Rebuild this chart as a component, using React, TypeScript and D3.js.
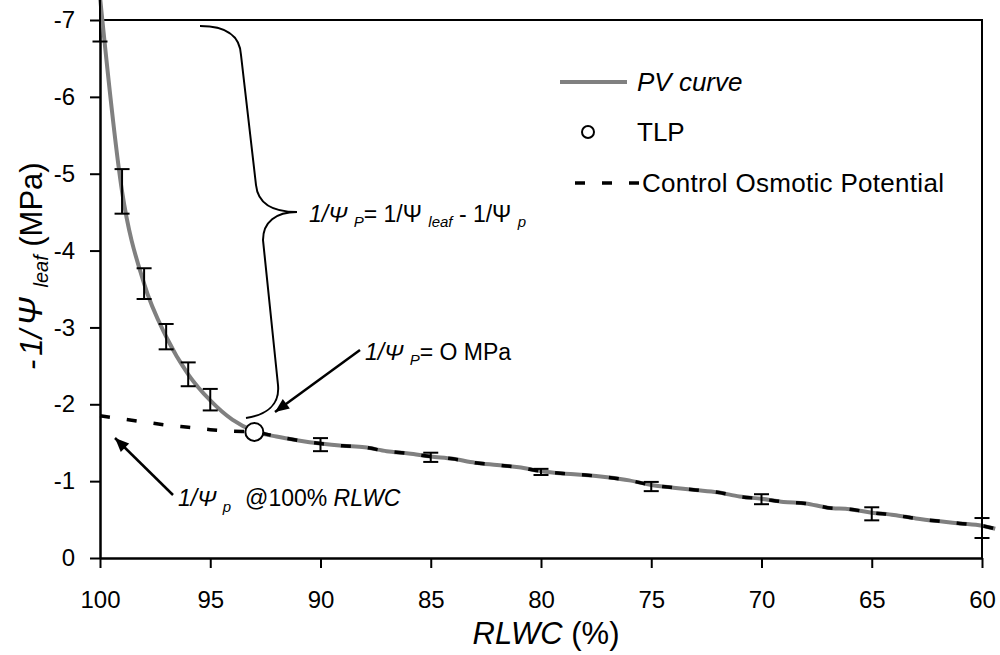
import React, { useRef, useEffect } from "react";
import * as d3 from "d3";

// RLWC (%) sampled along the PV curve
const rlwc = [
  100, 99, 98, 97, 96, 95, 94, 93, 92, 91, 90, 89, 88, 87, 86, 85, 84, 83, 82, 81,
  80, 79, 78, 77, 76, 75, 74, 73, 72, 71, 70, 69, 68, 67, 66, 65, 64, 63, 62, 61,
  60, 59.4
];
// -1/Psi leaf (MPa)
const pvCurve = [
  -7.3, -4.77, -3.57, -2.88, -2.39, -2.05, -1.8, -1.65, -1.58, -1.53, -1.49, -1.46,
  -1.44, -1.39, -1.36, -1.32, -1.29, -1.24, -1.21, -1.18, -1.13, -1.1, -1.08, -1.05,
  -1.01, -0.95, -0.915, -0.885, -0.855, -0.8, -0.77, -0.73, -0.71, -0.655, -0.635,
  -0.59, -0.56, -0.515, -0.48, -0.45, -0.42, -0.38
];
// control osmotic potential (dashed)
const osmotic = [
  -1.85, -1.81, -1.77, -1.73, -1.7, -1.67, -1.65, -1.64, -1.58, -1.53, -1.49, -1.46,
  -1.44, -1.39, -1.36, -1.32, -1.29, -1.24, -1.21, -1.18, -1.13, -1.1, -1.08, -1.05,
  -1.01, -0.95, -0.915, -0.885, -0.855, -0.8, -0.77, -0.73, -0.71, -0.655, -0.635,
  -0.59, -0.56, -0.515, -0.48, -0.45, -0.42, -0.38
];

const errRlwc = [100, 99, 98, 97, 96, 95, 90, 85, 80, 75, 70, 65, 60];
const errMean = [-7.3, -4.77, -3.57, -2.88, -2.39, -2.06, -1.475, -1.31, -1.12, -0.93, -0.765, -0.575, -0.39];
const errSize = [0.58, 0.29, 0.2, 0.165, 0.155, 0.14, 0.085, 0.06, 0.04, 0.06, 0.065, 0.085, 0.13];

const tlpRlwc = [93];
const tlpValue = [-1.64];

const xTicks = [100, 95, 90, 85, 80, 75, 70, 65, 60];
const yTicks = [0, -1, -2, -3, -4, -5, -6, -7];

const W = 1000;
const H = 655;
const left = 100;
const right = 982;
const top = 20;
const bottom = 558;
const FONT = "'Liberation Sans', Arial, sans-serif";

const x = d3.scaleLinear().domain([100, 60]).range([left, right]);
const y = d3.scaleLinear().domain([0, -7]).range([bottom, top]);

const arrowHead = (x1, y1, x2, y2, len = 14, half = 6) => {
  const a = Math.atan2(y2 - y1, x2 - x1);
  const bx = x2 - len * Math.cos(a);
  const by = y2 - len * Math.sin(a);
  const px = -Math.sin(a) * half;
  const py = Math.cos(a) * half;
  return `M${x2},${y2}L${bx + px},${by + py}L${bx - px},${by - py}Z`;
};

const Arrow = ({ x1, y1, x2, y2 }) => (
  <g>
    <line x1={x1} y1={y1} x2={x2} y2={y2} stroke="#000" strokeWidth={2.5} />
    <path d={arrowHead(x1, y1, x2, y2)} fill="#000" />
  </g>
);

const Chart = () => {
  const svgRef = useRef();

  useEffect(() => {
    const svg = d3.select(svgRef.current);
    const g = svg.select(".plot");
    g.selectAll("*").remove();

    // frame
    g.append("path")
      .attr("d", `M${left},${top}H${right}V${bottom}`)
      .attr("fill", "none")
      .attr("stroke", "#000")
      .attr("stroke-width", 2);

    const yAxis = d3
      .axisLeft(y)
      .tickValues(yTicks)
      .tickSize(10)
      .tickSizeOuter(0)
      .tickPadding(15)
      .tickFormat((d) => String(d));
    const ya = g.append("g").attr("transform", `translate(${left},0)`).call(yAxis);

    const xAxis = d3
      .axisBottom(x)
      .tickValues(xTicks)
      .tickSize(10)
      .tickSizeOuter(0)
      .tickPadding(23)
      .tickFormat((d) => String(d));
    const xa = g.append("g").attr("transform", `translate(0,${bottom})`).call(xAxis);

    [ya, xa].forEach((a) => {
      a.select(".domain").attr("stroke-width", 2.5);
      a.selectAll(".tick line").attr("stroke-width", 2);
      a.selectAll(".tick text")
        .attr("font-family", FONT)
        .attr("font-size", 24)
        .attr("fill", "#000");
    });

    const pts = rlwc.map((r, i) => [x(r), y(pvCurve[i])]);
    const osm = rlwc.map((r, i) => [x(r), y(osmotic[i])]);
    const ln = d3.line().curve(d3.curveMonotoneX);

    g.append("path")
      .attr("d", ln(pts))
      .attr("fill", "none")
      .attr("stroke", "#808080")
      .attr("stroke-width", 4);

    g.append("path")
      .attr("d", ln(osm))
      .attr("fill", "none")
      .attr("stroke", "#000")
      .attr("stroke-width", 3.5)
      .attr("stroke-dasharray", "10,17");

    const eb = g
      .selectAll(".err")
      .data(errRlwc)
      .join("g")
      .attr("class", "err")
      .attr("stroke", "#000")
      .attr("stroke-width", 2);
    eb.append("line")
      .attr("x1", (d) => x(d))
      .attr("x2", (d) => x(d))
      .attr("y1", (d, i) => y(errMean[i] - errSize[i]))
      .attr("y2", (d, i) => y(errMean[i] + errSize[i]));
    eb.append("line")
      .attr("x1", (d) => x(d) - 7.5)
      .attr("x2", (d) => x(d) + 7.5)
      .attr("y1", (d, i) => y(errMean[i] - errSize[i]))
      .attr("y2", (d, i) => y(errMean[i] - errSize[i]));
    eb.append("line")
      .attr("x1", (d) => x(d) - 7.5)
      .attr("x2", (d) => x(d) + 7.5)
      .attr("y1", (d, i) => y(errMean[i] + errSize[i]))
      .attr("y2", (d, i) => y(errMean[i] + errSize[i]));

    g.selectAll(".tlp")
      .data(tlpRlwc)
      .join("circle")
      .attr("class", "tlp")
      .attr("cx", (d) => x(d))
      .attr("cy", (d, i) => y(tlpValue[i]))
      .attr("r", 9)
      .attr("fill", "#fff")
      .attr("stroke", "#000")
      .attr("stroke-width", 2);
  }, []);

  const sub = { fontSize: 15, fontStyle: "italic" };

  return (
    <svg ref={svgRef} width={W} height={H} style={{ display: "block", background: "#fff" }}>
      <g className="plot" />

      {/* legend */}
      <g fontFamily={FONT} fontSize={26} fill="#000">
        <line x1={560} x2={627} y1={82} y2={82} stroke="#808080" strokeWidth={4} />
        <text x={637} y={91} fontStyle="italic">PV curve</text>
        <circle cx={588} cy={132} r={6} fill="#fff" stroke="#000" strokeWidth={2} />
        <text x={637} y={141}>TLP</text>
        <line x1={575} x2={639} y1={183} y2={183} stroke="#000" strokeWidth={3.5} strokeDasharray="10,17" />
        <text x={642} y={192} letterSpacing={0.3}>Control Osmotic Potential</text>
      </g>

      {/* brace */}
      <path
        d="M200,26C230,26 240,38 241,55L256,185C258,205 275,212 297,212C276,212 263,222 263,240L278,385C280,405 266,415 246,418"
        fill="none"
        stroke="#000"
        strokeWidth={2}
      />

      <g fontFamily={FONT} fontSize={23} fill="#000">
        <text x={309} y={222}>
          <tspan fontStyle="italic">1/Ψ </tspan>
          <tspan dy={5} style={sub}>P</tspan>
          <tspan dy={-5}>= 1/Ψ </tspan>
          <tspan dy={5} style={sub}>leaf</tspan>
          <tspan dy={-5}> - 1/Ψ </tspan>
          <tspan dy={5} style={sub}>p</tspan>
        </text>
        <text x={365} y={360}>
          <tspan fontStyle="italic">1/Ψ </tspan>
          <tspan dy={5} style={sub}>P</tspan>
          <tspan dy={-5}>= O MPa</tspan>
        </text>
        <text x={178} y={506}>
          <tspan fontStyle="italic">1/Ψ </tspan>
          <tspan dy={6} style={sub}>p</tspan>
          <tspan dy={-6} dx={14}>@100% </tspan>
          <tspan fontStyle="italic">RLWC</tspan>
        </text>
      </g>

      <Arrow x1={360} y1={350} x2={275} y2={412} />
      <Arrow x1={173} y1={495} x2={115} y2={438} />

      {/* axis titles */}
      <text x={546} y={644} textAnchor="middle" fontFamily={FONT} fontSize={31} fill="#000">
        <tspan fontStyle="italic">RLWC</tspan>
        <tspan> (%)</tspan>
      </text>
      <text
        transform="translate(42,370) rotate(-90)"
        fontFamily={FONT}
        fontSize={31}
        fill="#000"
      >
        <tspan fontStyle="italic">-</tspan>
        <tspan fontStyle="italic" dx={4}>1/</tspan>
        <tspan fontStyle="italic" dx={4} fontSize={34}>Ψ</tspan>
        <tspan dx={10} dy={6} fontSize={20} fontStyle="italic">leaf</tspan>
        <tspan dy={-6}> (MPa)</tspan>
      </text>
    </svg>
  );
};

export default function App() {
  return (
    <div style={{ position: "absolute", top: 0, left: 0 }}>
      <Chart />
    </div>
  );
}
